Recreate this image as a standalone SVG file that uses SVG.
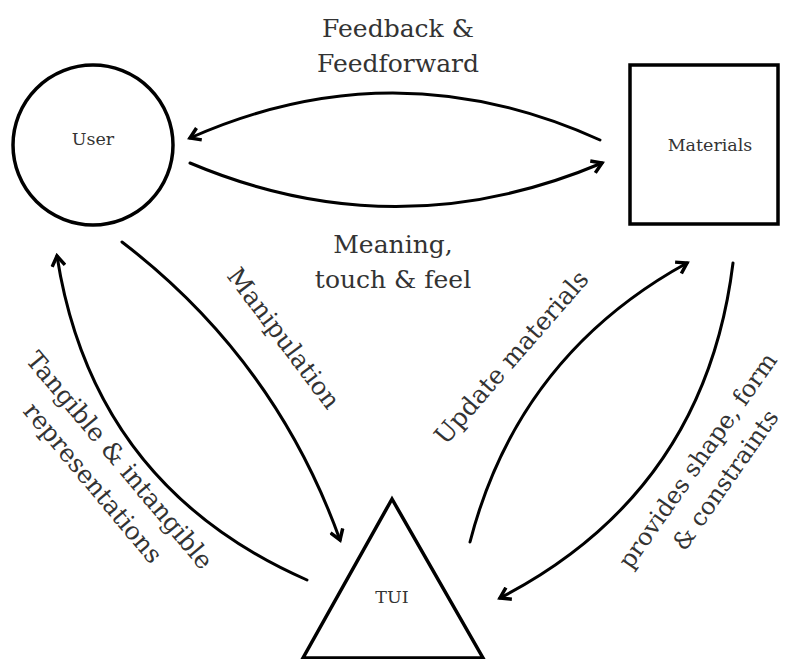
<svg xmlns="http://www.w3.org/2000/svg" width="787" height="659" viewBox="0 0 787 659">
<style>
.shape{fill:#fff;stroke:#000;stroke-width:3.5}
.conn{fill:none;stroke:#000;stroke-width:3;stroke-linecap:round}
.node{font-family:"DejaVu Serif","Liberation Serif",serif;font-size:17.5px;fill:#333;text-anchor:middle}
.lbl{font-family:"DejaVu Serif","Liberation Serif",serif;font-size:25px;fill:#333;text-anchor:middle}
</style>
<defs>
<marker id="arr" viewBox="0 0 16 16" refX="13" refY="8" markerWidth="16" markerHeight="16" markerUnits="userSpaceOnUse" orient="auto">
<path d="M3,1.5 L13,8 L3,14.5" fill="none" stroke="#000" stroke-width="3.5" stroke-linejoin="miter"/>
</marker>
</defs>
<g id="user">
<circle class="shape" cx="93" cy="145" r="80"/>
<text class="node" x="93" y="145">User</text>
</g>
<g id="materials">
<rect class="shape" x="630" y="65" width="148" height="159"/>
<text class="node" x="710" y="151">Materials</text>
</g>
<g id="tui">
<polygon class="shape" points="392,499 303,658 483,658"/>
<text class="node" x="392" y="603">TUI</text>
</g>
<g id="connectors">
<path class="conn" d="M600,140 Q395,47 190,138" marker-end="url(#arr)"/>
<path class="conn" d="M190,163 Q396,250 602,163" marker-end="url(#arr)"/>
<path class="conn" d="M122,242 Q275,359 340,540" marker-end="url(#arr)"/>
<path class="conn" d="M307,580 Q93,486 57,256" marker-end="url(#arr)"/>
<path class="conn" d="M470,542 Q518,356 687,263" marker-end="url(#arr)"/>
<path class="conn" d="M733,263 Q705,492 500,598" marker-end="url(#arr)"/>
</g>
<g id="labels">
<text class="lbl" x="398" y="37">Feedback &amp;</text>
<text class="lbl" x="398" y="72">Feedforward</text>
<text class="lbl" x="393" y="253">Meaning,</text>
<text class="lbl" x="393" y="288">touch &amp; feel</text>
<text class="lbl" transform="translate(284,338) rotate(53)" y="9">Manipulation</text>
<g transform="translate(120,460) rotate(50)">
<text class="lbl" y="9">Tangible &amp; intangible</text>
<text class="lbl" y="44">representations</text>
</g>
<text class="lbl" transform="translate(511,357) rotate(-49)" y="9">Update materials</text>
<g transform="translate(697,460) rotate(-55)">
<text class="lbl" y="9" style="font-size:24px">provides shape, form</text>
<text class="lbl" y="43" style="font-size:24px">&amp; constraints</text>
</g>
</g>
</svg>
